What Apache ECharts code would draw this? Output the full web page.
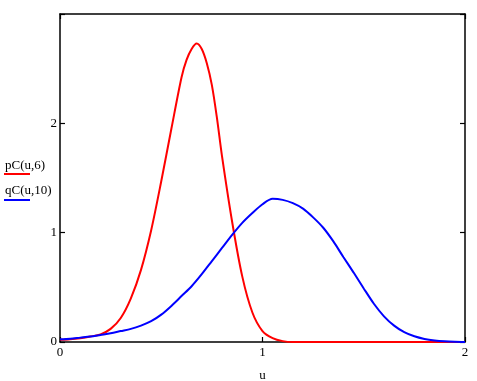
<!DOCTYPE html>
<html>
<head>
<meta charset="utf-8">
<script src="https://cdn.jsdelivr.net/npm/echarts@6/dist/echarts.min.js"></script>
<style>
  html, body { margin: 0; padding: 0; background: #fff; }
  #chart { width: 477px; height: 381px; }
</style>
</head>
<body>
<div id="chart"></div>
<script>
// values
const redU = [0, 0.05, 0.1, 0.15, 0.2, 0.25, 0.3, 0.35, 0.4, 0.45, 0.5, 0.55, 0.6, 0.625, 0.65, 0.675, 0.7, 0.725, 0.75, 0.775, 0.8, 0.85, 0.9, 0.95, 1.0, 1.05, 1.1, 1.15, 1.2, 1.4, 1.6, 1.8, 2.0];
const redV = [0.02, 0.025, 0.035, 0.05, 0.07, 0.12, 0.22, 0.4, 0.66, 1.02, 1.47, 1.95, 2.42, 2.58, 2.68, 2.73, 2.68, 2.55, 2.35, 2.05, 1.7, 1.1, 0.6, 0.27, 0.1, 0.035, 0.008, 0, 0, 0, 0, 0, 0];

const blueU = [0, 0.05, 0.1, 0.15, 0.2, 0.25, 0.3, 0.35, 0.4, 0.45, 0.5, 0.55, 0.6, 0.65, 0.7, 0.75, 0.8, 0.85, 0.9, 0.95, 1.0, 1.05, 1.1, 1.15, 1.2, 1.25, 1.3, 1.35, 1.4, 1.45, 1.5, 1.55, 1.6, 1.65, 1.7, 1.75, 1.8, 1.85, 1.9, 1.95, 2.0];
const blueV = [0.025, 0.03, 0.04, 0.05, 0.065, 0.08, 0.1, 0.12, 0.15, 0.19, 0.25, 0.33, 0.42, 0.51, 0.62, 0.74, 0.86, 0.98, 1.09, 1.18, 1.26, 1.31, 1.30, 1.27, 1.22, 1.14, 1.045, 0.92, 0.775, 0.635, 0.49, 0.35, 0.235, 0.15, 0.09, 0.052, 0.028, 0.014, 0.006, 0.002, 0];

const xTicks = [0, 1, 2];
const yTicks = [0, 1, 2];
const seriesNames = ['pC(u,6)', 'qC(u,10)'];
const xName = 'u';

const font = '"Liberation Serif", "DejaVu Serif", serif';
const chart = echarts.init(document.getElementById('chart'), null, { renderer: 'canvas' });

const axisLine = { show: true, onZero: false, lineStyle: { color: '#000', width: 1.5 } };
const tick = { show: true, inside: true, length: 5, lineStyle: { color: '#000', width: 1.2 } };

chart.setOption({
  backgroundColor: '#fff',
  animation: false,
  grid: { left: 60, right: 12, top: 14, bottom: 39, containLabel: false, outerBoundsMode: 'none' },
  xAxis: [
    {
      type: 'value', min: 0, max: 2, interval: 1, position: 'bottom',
      name: xName, nameLocation: 'middle', nameGap: 27,
      nameTextStyle: { color: '#000', fontFamily: font, fontSize: 13 },
      axisLine, axisTick: tick, splitLine: { show: false },
      axisLabel: {
        color: '#000', fontFamily: font, fontSize: 13, margin: 4,
        formatter: v => xTicks.includes(v) ? String(v) : ''
      }
    },
    {
      type: 'value', min: 0, max: 2, interval: 2, position: 'top',
      axisLine, axisTick: tick, axisLabel: { show: false }, splitLine: { show: false }
    }
  ],
  yAxis: [
    {
      type: 'value', min: 0, max: 3, interval: 1, position: 'left',
      axisLine, axisTick: tick, splitLine: { show: false },
      axisLabel: {
        color: '#000', fontFamily: font, fontSize: 13, margin: 3,
        formatter: v => yTicks.includes(v) ? String(v) : ''
      }
    },
    {
      type: 'value', min: 0, max: 3, interval: 1, position: 'right',
      axisLine, axisTick: tick, axisLabel: { show: false }, splitLine: { show: false }
    }
  ],
  series: [
    {
      name: seriesNames[0], type: 'line', smooth: 0.3, showSymbol: false,
      data: redU.map((u, i) => [u, redV[i]]),
      lineStyle: { color: '#ff0000', width: 2 }, z: 3
    },
    {
      name: seriesNames[1], type: 'line', smooth: 0.3, showSymbol: false,
      data: blueU.map((u, i) => [u, blueV[i]]),
      lineStyle: { color: '#0000ff', width: 2 }, z: 4
    }
  ],
  graphic: [
    { type: 'text', left: 5, top: 159, style: { text: seriesNames[0], fill: '#000', font: '13px ' + font } },
    { type: 'line', shape: { x1: 4, y1: 174, x2: 30, y2: 174 }, style: { stroke: '#ff0000', lineWidth: 2 } },
    { type: 'text', left: 5, top: 184, style: { text: seriesNames[1], fill: '#000', font: '13px ' + font } },
    { type: 'line', shape: { x1: 4, y1: 200, x2: 30, y2: 200 }, style: { stroke: '#0000ff', lineWidth: 2 } }
  ]
});
</script>
</body>
</html>
